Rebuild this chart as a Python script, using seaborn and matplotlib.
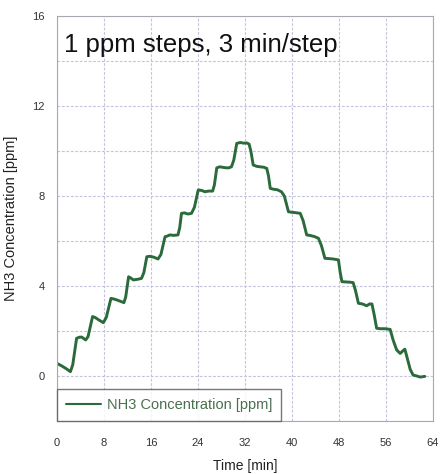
import numpy as np
import pandas as pd
import matplotlib
matplotlib.use("Agg")
import matplotlib.pyplot as plt
import seaborn as sns

# readings taken off the reference trace
time_min = [0, 0.8, 1.6, 2.3, 2.7, 3.35, 3.8, 4.2, 4.9, 5.3, 6.07, 6.5, 7.2, 7.9, 8.4,
            9.2, 9.7, 10.2, 11.4, 11.7, 12.2, 12.6, 13.0, 13.8, 14.4, 14.8, 15.3, 15.8,
            16.5, 17.2, 17.7, 18.4, 18.8, 19.2, 19.9, 20.6, 20.9, 21.2, 21.7, 22.3, 22.9,
            23.4, 24.05, 24.6, 25.2, 25.8, 26.5, 26.8, 27.2, 27.7, 28.6, 29.2, 29.7, 30.1,
            30.6, 31.2, 31.8, 32.3, 32.7, 33.0, 33.4, 34.0, 34.55, 35.2, 35.7, 36.0, 36.3,
            36.9, 37.5, 38.2, 38.7, 39.4, 39.9, 40.6, 41.4, 41.9, 42.5, 43.0, 43.8, 44.5,
            45.0, 45.6, 46.2, 47.0, 47.9, 48.2, 48.5, 49.2, 49.8, 50.4, 50.8, 51.3, 52.0,
            52.7, 53.2, 53.6, 54.0, 54.4, 55.0, 55.8, 56.7, 57.2, 57.8, 58.4, 58.8, 59.2,
            59.6, 60.1, 60.6, 61.2, 61.8, 62.6]
nh3_ppm = [0.56, 0.45, 0.32, 0.19, 0.5, 1.67, 1.72, 1.73, 1.6, 1.75, 2.64, 2.6, 2.48, 2.37, 2.6,
           3.45, 3.42, 3.38, 3.26, 3.5, 4.41, 4.35, 4.27, 4.3, 4.34, 4.6, 5.3, 5.32,
           5.28, 5.2, 5.4, 6.19, 6.22, 6.27, 6.25, 6.27, 6.6, 7.23, 7.25, 7.2, 7.23,
           7.5, 8.27, 8.25, 8.19, 8.22, 8.22, 8.5, 9.25, 9.3, 9.26, 9.25, 9.3, 9.6,
           10.34, 10.38, 10.35, 10.36, 10.31, 10.0, 9.38, 9.32, 9.3, 9.28, 9.23, 8.9, 8.34,
           8.3, 8.28, 8.19, 8.0, 7.3, 7.28, 7.26, 7.23, 6.9, 6.27, 6.25, 6.2, 6.12,
           5.8, 5.23, 5.22, 5.2, 5.16, 4.6, 4.19, 4.18, 4.17, 4.15, 3.8, 3.23, 3.2,
           3.12, 3.2, 3.2, 2.7, 2.12, 2.1, 2.1, 2.07, 1.6, 1.16, 1.0, 1.1, 1.19,
           0.8, 0.3, 0.04, 0.0, -0.05, -0.02]
x_ticks = [0, 8, 16, 24, 32, 40, 48, 56, 64]
y_ticks = [0, 4, 8, 12, 16]

df = pd.DataFrame({"t": time_min, "c": nh3_ppm})

sns.set_theme(style="whitegrid")
plt.rcParams['font.family'] = ['Liberation Sans', 'DejaVu Sans']

fig = plt.figure(figsize=(4.41, 4.74), dpi=100)
ax = fig.add_axes([0.129, 0.112, 0.853, 0.854])

sns.lineplot(data=df, x="t", y="c", ax=ax, color="#2b6a3a", linewidth=2.1,
             label="NH3 Concentration [ppm]", sort=False)

ax.set_xlim(0, 64)
ax.set_ylim(-2, 16)
ax.set_xticks(x_ticks)
ax.set_yticks(y_ticks)
ax.set_yticks(np.arange(-2, 16, 2), minor=True)
ax.grid(True, which="both", color="#c4c4dc", linestyle=(0, (2.5, 1.5)), linewidth=0.8)
ax.tick_params(which="both", length=0, labelsize=8, labelcolor="#333333")
ax.tick_params(axis="x", pad=12)
ax.tick_params(axis="y", pad=9)
for s in ax.spines.values():
    s.set_color("#a8a8b0")
    s.set_linewidth(0.8)

ax.set_xlabel("Time [min]", fontsize=10, color="#222222", labelpad=8)
ax.set_ylabel("NH3 Concentration [ppm]", fontsize=10.5, color="#222222", labelpad=10)

ax.text(1.2, 14.7, "1 ppm steps, 3 min/step", fontsize=18.5, color="#111111",
        va="center", ha="left")

leg = ax.legend(loc="lower left", borderaxespad=0, fontsize=10.5, frameon=True,
                fancybox=False, handlelength=2.4, handletextpad=0.45, borderpad=0.6,
                labelcolor="#4a7050")
leg.get_frame().set_edgecolor("#555555")
leg.get_frame().set_linewidth(1.0)
for h in leg.get_lines():
    h.set_linewidth(1.5)

fig.savefig("out.png", dpi=100)
